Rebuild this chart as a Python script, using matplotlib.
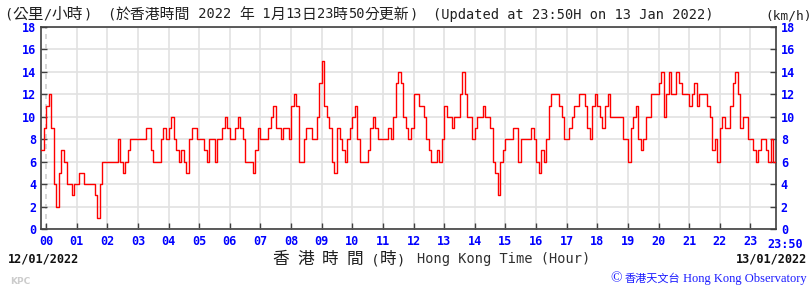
import numpy as np
import matplotlib
matplotlib.use("Agg")
import matplotlib.pyplot as plt
from matplotlib.font_manager import FontProperties

# ---------------- data (wind speed, km/h, every 5 minutes) ----------------
start_minute = -10          # 23:50 on the previous day
step_minutes = 5
speed_before_midnight = [7, 9]
speed_h00 = [11, 12, 9, 4, 2, 5, 7, 6, 4, 4, 3, 4]
speed_h01 = [4, 5, 5, 4, 4, 4, 4, 3, 1, 4, 6, 6]
speed_h02 = [6, 6, 6, 6, 8, 6, 5, 6, 7, 8, 8, 8]
speed_h03 = [8, 8, 8, 9, 9, 7, 6, 6, 6, 8, 9, 8]
speed_h04 = [9, 10, 8, 7, 6, 7, 6, 5, 8, 9, 9, 8]
speed_h05 = [8, 8, 7, 6, 8, 8, 6, 8, 8, 9, 10, 9]
speed_h06 = [8, 8, 9, 10, 9, 8, 6, 6, 6, 5, 7, 9]
speed_h07 = [8, 8, 8, 9, 10, 11, 9, 9, 8, 9, 9, 8]
speed_h08 = [11, 12, 11, 6, 6, 8, 9, 9, 8, 8, 10, 13]
speed_h09 = [15, 11, 10, 9, 6, 5, 9, 8, 7, 6, 8, 9]
speed_h10 = [10, 11, 8, 6, 6, 6, 7, 9, 10, 9, 8, 8]
speed_h11 = [8, 8, 9, 8, 10, 13, 14, 13, 10, 9, 8, 9]
speed_h12 = [12, 12, 11, 11, 10, 8, 7, 6, 6, 7, 6, 8]
speed_h13 = [11, 10, 10, 9, 10, 10, 12, 14, 12, 10, 10, 8]
speed_h14 = [9, 10, 10, 11, 10, 10, 9, 6, 5, 3, 6, 7]
speed_h15 = [8, 8, 8, 9, 9, 6, 8, 8, 8, 8, 9, 8]
speed_h16 = [6, 5, 7, 6, 8, 11, 12, 12, 12, 11, 10, 8]
speed_h17 = [8, 9, 10, 11, 11, 12, 12, 11, 9, 8, 11, 12]
speed_h18 = [11, 10, 9, 11, 12, 10, 10, 10, 10, 10, 8, 8]
speed_h19 = [6, 9, 10, 11, 8, 7, 8, 10, 10, 12, 12, 12]
speed_h20 = [13, 14, 10, 12, 14, 12, 12, 14, 13, 12, 12, 12]
speed_h21 = [11, 12, 13, 11, 12, 12, 12, 11, 10, 7, 8, 6]
speed_h22 = [9, 10, 9, 9, 11, 13, 14, 12, 9, 10, 10, 8]
speed_h23 = [8, 7, 6, 7, 8, 8, 7, 6, 8, 6, 7]

hour_labels = ["%02d" % h for h in range(24)]
end_label = "23:50"
y_ticks = [0, 2, 4, 6, 8, 10, 12, 14, 16, 18]

speeds = (speed_before_midnight + speed_h00 + speed_h01 + speed_h02 + speed_h03 +
          speed_h04 + speed_h05 + speed_h06 + speed_h07 + speed_h08 + speed_h09 +
          speed_h10 + speed_h11 + speed_h12 + speed_h13 + speed_h14 + speed_h15 +
          speed_h16 + speed_h17 + speed_h18 + speed_h19 + speed_h20 + speed_h21 +
          speed_h22 + speed_h23)
minutes = start_minute + step_minutes * np.arange(len(speeds))
hours = minutes / 60.0
end_hour = minutes[-1] / 60.0

# ---------------- figure ----------------
W, H = 812, 288
fig = plt.figure(figsize=(W / 100, H / 100), dpi=100)
fig.patch.set_facecolor("white")
ax = fig.add_axes([41 / W, (H - 229) / H, 735 / W, 202 / H])

ax.plot(hours, speeds, color="#ff0000", lw=1.0, drawstyle="steps-post", zorder=3)

ax.set_xlim(hours[0], end_hour)
ax.set_ylim(0, 18)
ax.set_xticks(range(24))
ax.set_xticklabels(hour_labels)
ax.set_yticks(y_ticks)
ax.set_yticklabels([str(v) for v in y_ticks])

ax.grid(True, color="#e2e2e2", lw=1.2, zorder=0)
ax.xaxis.get_gridlines()[0].set_linestyle((0, (3, 3)))
ax.xaxis.get_gridlines()[0].set_color("#cfcfcf")

for side in ["left", "right", "bottom", "top"]:
    ax.spines[side].set_color("#404040")
    ax.spines[side].set_linewidth(1.2)

ax.tick_params(axis="both", direction="in", length=4, width=1, color="#404040",
               labelcolor="#0000ff")
ax.tick_params(axis="x", pad=4.5, top=False)
ax.tick_params(axis="y", right=True, labelright=True, pad=3.5)

mono = "DejaVu Sans Mono"
for t in ax.xaxis.get_major_ticks():
    for lab in (t.label1, t.label2):
        lab.set_fontfamily(mono)
        lab.set_fontweight("bold")
        lab.set_fontsize(8.5)
for t in ax.yaxis.get_major_ticks():
    for lab in (t.label1, t.label2):
        lab.set_fontfamily(mono)
        lab.set_fontweight("bold")
        lab.set_fontsize(8.5)
    t.label2.set_horizontalalignment("left")

# final "23:50" label
ax.text(end_hour + 0.3, -0.045, end_label, transform=ax.get_xaxis_transform(),
        ha="center", va="top", color="#0000ff", fontfamily=mono,
        fontweight="bold", fontsize=8.5, clip_on=False)

# ---------------- mixed-script text helper ----------------
renderer = fig.canvas.get_renderer()

def is_cjk(ch):
    return ord(ch) >= 0x2E80

def width_px(s, fp):
    t1 = fig.text(0, 0, "|" + s + "|", fontproperties=fp)
    t2 = fig.text(0, 0, "||", fontproperties=fp)
    w = t1.get_window_extent(renderer).width - t2.get_window_extent(renderer).width
    t1.remove()
    t2.remove()
    return w

def mixed_text(x, y, s, latin_fp, cjk_fp, color, ha="left", special=None):
    runs = []
    for ch in s:
        kind = "cjk" if is_cjk(ch) else "latin"
        if special and ch in special:
            kind = "special"
        if runs and runs[-1][0] == kind:
            runs[-1][1] += ch
        else:
            runs.append([kind, ch])
    fps = {"cjk": cjk_fp, "latin": latin_fp}
    if special:
        fps["special"] = list(special.values())[0]
    widths = [width_px(r[1], fps[r[0]]) for r in runs]
    total = sum(widths)
    cx = x - total if ha == "right" else x
    for (kind, txt), w in zip(runs, widths):
        fig.text(cx / W, 1 - y / H, txt, fontproperties=fps[kind], color=color,
                 ha="left", va="baseline")
        cx += w

mono_fp = FontProperties(family=mono, size=9.8)
cjk_fp = FontProperties(family="Noto Sans CJK TC", size=11.3)
cjk_title_fp = FontProperties(family="Noto Sans CJK TC", size=10.7)
cjk_big_fp = FontProperties(family="Noto Sans CJK TC", size=12)

mixed_text(4, 18.5, "(公里/小時)", mono_fp, cjk_fp, "#202020")
mixed_text(107, 18.5, "(於香港時間 2022 年 1月13日23時50分更新)", mono_fp, cjk_title_fp, "#202020")
fig.text(433 / W, 1 - 18.5 / H, "(Updated at 23:50H on 13 Jan 2022)",
         fontproperties=mono_fp, color="#202020", ha="left", va="baseline")
fig.text(765 / W, 1 - 19.5 / H, "(km/h)", fontproperties=FontProperties(family=mono, size=9.3),
         color="#202020", ha="left", va="baseline")

bold_mono = FontProperties(family=mono, size=8.6, weight="bold")
fig.text(8 / W, 1 - 263 / H, "12/01/2022", fontproperties=bold_mono,
         ha="left", va="baseline", color="#111111")
fig.text(807 / W, 1 - 263 / H, "13/01/2022", fontproperties=bold_mono,
         ha="right", va="baseline", color="#111111")
mixed_text(272, 264, "香 港 時 間 (時)", mono_fp, cjk_big_fp, "#202020")
fig.text(417 / W, 1 - 263 / H, "Hong Kong Time (Hour)", fontproperties=mono_fp,
         ha="left", va="baseline", color="#303030")
fig.text(10 / W, 1 - 281 / H, "KPC", family="DejaVu Sans", fontweight="bold",
         fontsize=6.5, va="center", ha="left", color="#cccccc")

serif_fp = FontProperties(family="Liberation Serif", size=9.0)
copy_fp = FontProperties(family="Liberation Serif", size=11)
cjk_small_fp = FontProperties(family="Noto Sans CJK TC", size=8)
mixed_text(807, 282, "© 香港天文台 Hong Kong Observatory", serif_fp, cjk_small_fp,
           "#1a1aff", ha="right", special={"©": copy_fp})

fig.savefig("out.png", dpi=100, facecolor="white")
